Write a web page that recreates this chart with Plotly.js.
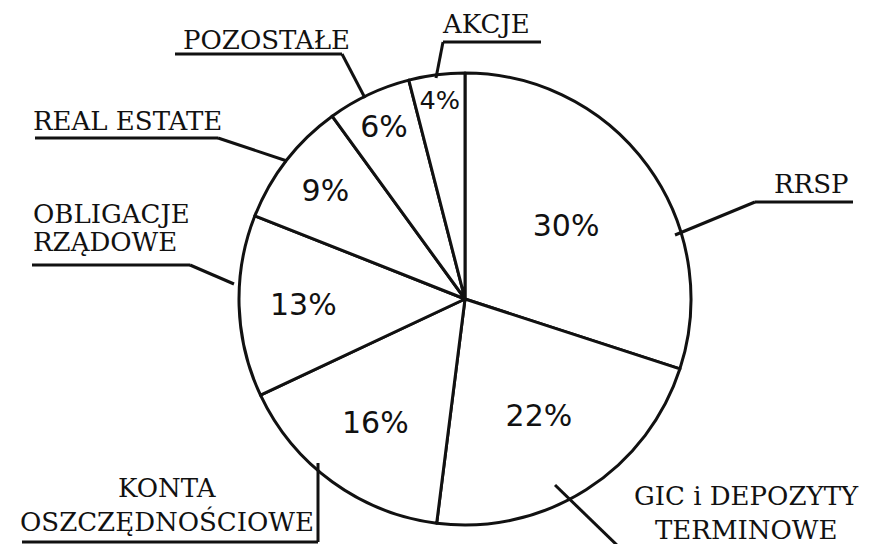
<!DOCTYPE html>
<html><head><meta charset="utf-8">
<script src="https://cdn.plot.ly/plotly-3.0.1.min.js"></script>
<style>html,body{margin:0;padding:0;background:#fff}#chart{width:870px;height:544px}</style>
</head><body><div id="chart"></div>
<script>
// ---- data ----
const categories = ["RRSP", "GIC i DEPOZYTY TERMINOWE", "KONTA OSZCZĘDNOŚCIOWE", "OBLIGACJE RZĄDOWE", "REAL ESTATE", "POZOSTAŁE", "AKCJE"];
const shares = [30, 22, 16, 13, 9, 6, 4];
const percentLabels = ["30%", "22%", "16%", "13%", "9%", "6%", "4%"];
const labelLines = [["RRSP"], ["GIC i DEPOZYTY", "TERMINOWE"], ["KONTA", "OSZCZĘDNOŚCIOWE"], ["OBLIGACJE", "RZĄDOWE"], ["REAL ESTATE"], ["POZOSTAŁE"], ["AKCJE"]];

// ---- label placement (layout, pixel coords of the 870x544 canvas) ----
const W = 870, H = 544;
const px = x => x / W, py = y => 1 - y / H;
const labelPlace = [
  {x: 811, ys: [184], anchor: "center", under: [755, 853, 202], leader: [[755, 202], [675, 235]]},
  {x: 746, ys: [496, 530], anchor: "center", under: null, leader: [[555, 485], [622, 550]]},
  {x: 167, ys: [488, 521], anchor: "center", under: [22, 318, 542], leader: [[318, 542], [318, 463]]},
  {x: 32, ys: [214, 242], anchor: "left", under: [32, 190, 265], leader: [[190, 265], [234, 284]]},
  {x: 32, ys: [121], anchor: "left", under: [35, 218, 138], leader: [[218, 138], [287, 161]]},
  {x: 182, ys: [40], anchor: "left", under: [175, 342, 54], leader: [[342, 54], [365, 98]]},
  {x: 441, ys: [24], anchor: "left", under: [443, 541, 42], leader: [[443, 42], [436, 78]]}
];

const annotations = [];
const shapes = [];
const lineStyle = {color: "#111", width: 3};
labelLines.forEach((lines, i) => {
  const p = labelPlace[i];
  lines.forEach((t, j) => {
    annotations.push({
      text: t, showarrow: false, xref: "paper", yref: "paper",
      x: px(p.x), y: py(p.ys[j]), xanchor: p.anchor, yanchor: "middle", borderpad: 0,
      font: {family: "DejaVu Serif", size: 26, color: "#111"}
    });
  });
  if (p.under) shapes.push({type: "line", xref: "paper", yref: "paper",
    x0: px(p.under[0]), x1: px(p.under[1]), y0: py(p.under[2]), y1: py(p.under[2]), line: lineStyle});
  shapes.push({type: "line", xref: "paper", yref: "paper",
    x0: px(p.leader[0][0]), y0: py(p.leader[0][1]), x1: px(p.leader[1][0]), y1: py(p.leader[1][1]), line: lineStyle});
});

const cx = 465, cy = 299, r = 226;
const trace = {
  type: "pie",
  labels: categories,
  values: shares,
  text: percentLabels,
  textinfo: "text",
  textposition: "inside",
  insidetextorientation: "horizontal",
  sort: false,
  direction: "clockwise",
  rotation: 0,
  hoverinfo: "label+text",
  marker: {colors: categories.map(() => "#ffffff"), line: {color: "#111", width: 3}},
  textfont: {family: "DejaVu Sans", size: 30, color: "#111"},
  domain: {x: [px(cx - r), px(cx + r)], y: [py(cy + r), py(cy - r)]}
};

Plotly.newPlot("chart", [trace], {
  width: W, height: H,
  margin: {l: 0, r: 0, t: 0, b: 0},
  paper_bgcolor: "#ffffff",
  showlegend: false,
  annotations: annotations,
  shapes: shapes
}, {staticPlot: true});
</script></body></html>
